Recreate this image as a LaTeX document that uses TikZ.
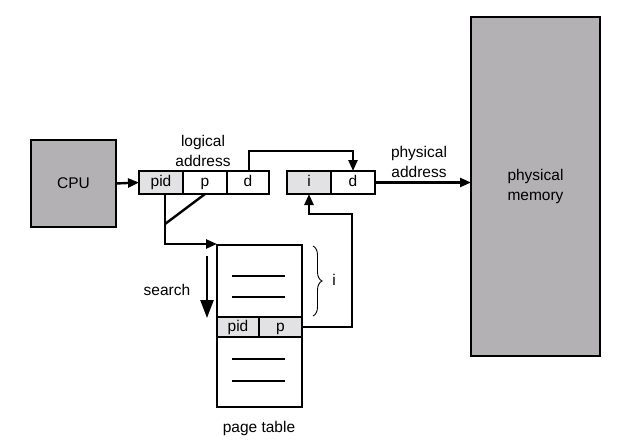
\documentclass[tikz,border=0pt]{standalone}
\usepackage{fontspec}
\setmainfont{Liberation Sans}
\usetikzlibrary{arrows.meta,decorations.pathreplacing,calc}
\definecolor{darkfill}{RGB}{179,177,180}
\definecolor{lightfill}{RGB}{226,226,228}
\begin{document}
\begin{tikzpicture}[x=1pt,y=-1pt,
  font=\fontsize{15.5}{20}\selectfont,
  cell/.style={draw,line width=1.2pt,rectangle,inner sep=0pt,outer sep=0pt,minimum height=23pt,text height=11pt,text depth=3pt},
  bigbox/.style={draw,line width=1.2pt,rectangle,fill=darkfill,inner sep=0pt,outer sep=0pt,align=center},
  conn/.style={line width=2.4pt},
  tip/.style={-{Triangle[length=11pt,width=9pt]}},
  lbl/.style={align=center,inner sep=0pt}]
\useasboundingbox (0,0) rectangle (619,445);
% CPU
\node[bigbox,minimum width=85pt,minimum height=87pt] (cpu) at (73.5,183.5) {CPU};
% logical address
\node[cell,fill=lightfill,minimum width=44pt] (pid) at (161,182.5) {pid};
\node[cell,minimum width=44pt] (p) at (205,182.5) {p};
\node[cell,minimum width=42pt] (d) at (248,182.5) {d};
% physical address
\node[cell,fill=lightfill,minimum width=44pt] (i) at (309,182.5) {i};
\node[cell,minimum width=44pt] (d2) at (353,182.5) {d};
% memory
\node[bigbox,minimum width=129pt,minimum height=339pt] (mem) at (535.5,186.5) {physical\\memory};
% page table
\node[draw,line width=1.2pt,rectangle,inner sep=0pt,outer sep=0pt,minimum width=85pt,minimum height=162pt] (pt) at (259.5,326) {};
\node[cell,fill=lightfill,minimum width=42pt,minimum height=20pt] (ppid) at (238,327) {pid};
\node[cell,fill=lightfill,minimum width=43pt,minimum height=20pt] (pp) at (280.5,327) {p};
\coordinate (l1a) at (232,276); \coordinate (l1b) at (285,276);
\coordinate (l2a) at (232,297); \coordinate (l2b) at (285,297);
\coordinate (l3a) at (232,359); \coordinate (l3b) at (285,359);
\coordinate (l4a) at (232,381); \coordinate (l4b) at (285,381);
\draw[line width=1.1pt] (l1a) -- (l1b) (l2a) -- (l2b) (l3a) -- (l3b) (l4a) -- (l4b);
% labels
\node[lbl] (la) at (203,151) {logical\\address};
\node[lbl] (pa) at (419,162) {physical\\address};
\node[lbl] (srch) at (167,290) {search};
\node[lbl] (ptl) at (259,428) {page table};
% connectors
\draw[conn,tip] (cpu.east) -- (pid.west);
\coordinate (dtop) at (249,151);
\draw[conn,tip] ([xshift=1pt]d.north) -- (dtop) -| (d2.north);
\draw[conn,tip] (d2.east) -- (mem.west |- d2.east);
\coordinate (pdown) at (165,194);
\coordinate (diag) at (165,224);
\draw[conn,tip] (pdown) |- ([yshift=1pt]pt.north west);
\draw[conn] (p.south) -- (diag);
\coordinate (r1) at (352,214);
\draw[conn,tip] (pp.east) -| (r1) -| (i.south);
\coordinate (s1) at (207,256); \coordinate (s2) at (207,318);
\draw[conn,-{Triangle[length=18pt,width=13pt]}] (s1) -- (s2);
\coordinate (b1) at (313,246); \coordinate (b2) at (313,316);
\draw[line width=0.9pt,decorate,decoration={brace,amplitude=9pt}] (b1) -- (b2);
\node[lbl] (ib) at (334,280) {i};
\end{tikzpicture}
\end{document}
